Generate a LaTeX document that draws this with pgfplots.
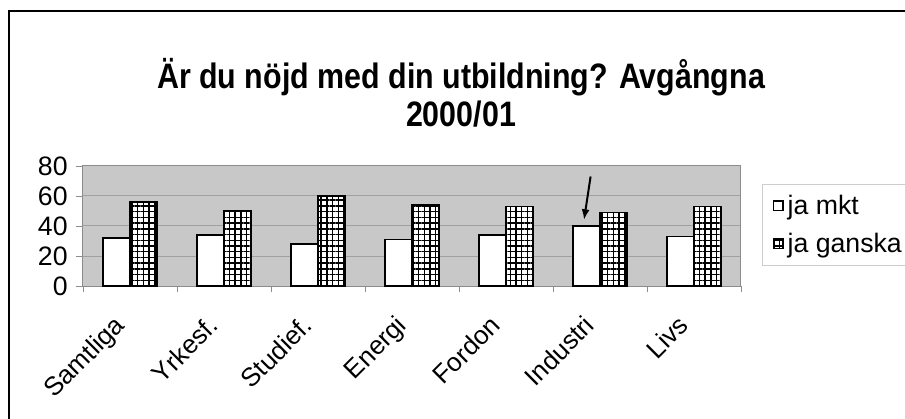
\documentclass[border=0pt]{standalone}
\usepackage{fontspec}
\setmainfont{Liberation Sans}
\newfontfamily\titlefont{Liberation Sans}[FakeStretch=0.86]
\usepackage{pgfplots}
\pgfplotsset{compat=1.18}
\usetikzlibrary{patterns.meta,arrows.meta}
\definecolor{plotbg}{RGB}{200,200,200}
\definecolor{gridc}{RGB}{160,160,160}
\definecolor{axc}{RGB}{140,140,140}
\definecolor{legc}{RGB}{205,205,205}
\pgfplotsset{
  sqleg/.style={legend image code/.code={\draw[##1, line width=1pt] (0pt,-3.5pt) rectangle (7pt,3.5pt);}},
}
\begin{document}
\begin{tikzpicture}
\useasboundingbox (0pt,0pt) rectangle (678.75pt,313.5pt);
\draw[line width=1.5pt] (6.75pt,-15pt) -- (6.75pt,305.25pt) -- (690pt,305.25pt);
\node[font=\titlefont\bfseries\fontsize{26.5}{28}\selectfont, align=center] at (345.75pt,244pt) {Är du nöjd med din utbildning? Avgångna\\2000/01};
\begin{axis}[
  at={(62.25pt,99pt)}, anchor=south west, scale only axis,
  width=493.5pt, height=90pt,
  clip=false,
  ymin=0, ymax=80, ytick={0,20,...,80},
  xmin=-0.5, xmax=6.5,
  xtick={0,...,6},
  xticklabels={Samtliga,Yrkesf.,Studief.,Energi,Fordon,Industri,Livs},
  minor xtick={-0.5,0.5,...,6.5},
  major x tick style={draw=none},
  minor x tick style={axc},
  y tick style={axc},
  tick align=outside,
  major tick length=5pt, minor tick length=4.5pt,
  xtick pos=bottom, ytick pos=left,
  axis line style={axc, line width=0.75pt},
  axis background/.style={fill=plotbg},
  ymajorgrids, grid style={gridc, line width=0.75pt},
  ybar=0pt, bar width=20.25pt,
  /pgf/number format/assume math mode=true,
  tick label style={font=\fontsize{20}{22}\selectfont},
  xticklabel style={xshift=-13pt, yshift=-11pt, rotate=45, anchor=north east, font=\fontsize{19.5}{21}\selectfont},
  yticklabel style={xshift=-3pt},
  legend style={at={(axis description cs:1.032,0.85)}, anchor=north west,
    draw=legc, fill=white, font=\fontsize{20}{22}\selectfont,
    row sep=12.5pt, inner xsep=8pt, inner ysep=8pt,
    nodes={inner xsep=3pt, inner ysep=0pt}},
  legend cell align=left,
]
\addplot[draw=black, line width=1pt, fill=white, sqleg]
  coordinates {(0,32) (1,34) (2,28) (3,31) (4,34) (5,40) (6,33)};
\addlegendentry{ja mkt}
\addplot[draw=black, line width=1pt, fill=white,
  postaction={pattern={Hatch[angle=0,distance=4.3pt,line width=1.1pt]}}, sqleg]
  coordinates {(0,56) (1,50) (2,60) (3,54) (4,53) (5,49) (6,53)};
\addlegendentry{ja ganska}
\draw[-{Latex[length=8pt,width=6pt]}, line width=1.5pt] (axis cs:4.90,73) -- (axis cs:4.83,44);
\end{axis}
\end{tikzpicture}
\end{document}
